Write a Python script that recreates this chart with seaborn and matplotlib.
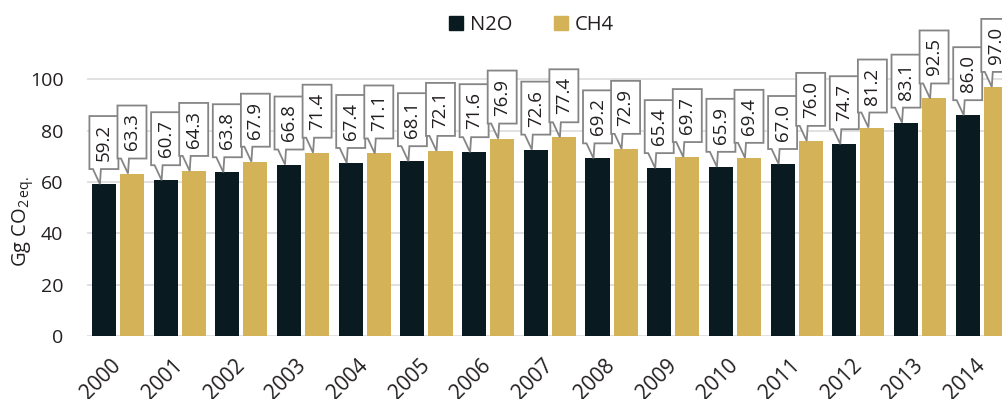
import matplotlib
matplotlib.use("Agg")
import matplotlib.pyplot as plt
import matplotlib.transforms as mtransforms
from matplotlib.patches import Polygon
from matplotlib.lines import Line2D
import pandas as pd
import seaborn as sns

# Emissions by year, Gg CO2 eq.
years = [str(y) for y in range(2000, 2015)]
n2o = [59.2, 60.7, 63.8, 66.8, 67.4, 68.1, 71.6, 72.6, 69.2, 65.4, 65.9, 67.0, 74.7, 83.1, 86.0]
ch4 = [63.3, 64.3, 67.9, 71.4, 71.1, 72.1, 76.9, 77.4, 72.9, 69.7, 69.4, 76.0, 81.2, 92.5, 97.0]
gases = ["N2O", "CH4"]
colors = ["#0a1a21", "#d4b257"]
yticks = [0, 20, 40, 60, 80, 100]

TEXT = "#231f20"
GRID = "#dcdcdc"
EDGE = "#858585"

sns.set_theme(style="white")
plt.rcParams["font.family"] = ["Open Sans", "DejaVu Sans"]
plt.rcParams["mathtext.fontset"] = "custom"
plt.rcParams["mathtext.rm"] = "Open Sans"
plt.rcParams["mathtext.it"] = "Open Sans"
plt.rcParams["text.color"] = TEXT

W, H = 1002, 399
fig = plt.figure(figsize=(W / 100, H / 100), dpi=100)
ax = fig.add_axes([87.1 / W, 62.8 / H, 925.5 / W, 334.1 / H])

df = pd.DataFrame({
    "year": years * 2,
    "gas": [gases[0]] * len(years) + [gases[1]] * len(years),
    "value": n2o + ch4,
})
sns.barplot(data=df, x="year", y="value", hue="gas", hue_order=gases,
            palette=colors, saturation=1, width=0.91, gap=0.14,
            linewidth=0, errorbar=None, legend=False, ax=ax)

ax.set_xlim(-0.5, len(years) - 0.5)
ax.set_ylim(0, 130)
ax.set_yticks(yticks)
ax.yaxis.grid(True, color=GRID, lw=1.2)
ax.set_axisbelow(True)
for s in ax.spines.values():
    s.set_visible(False)
ax.set_xlabel("")
ax.set_ylabel("")
ax.tick_params(axis="y", length=0, pad=17, labelsize=14, labelcolor=TEXT)
ax.tick_params(axis="x", length=0, pad=19, labelsize=15, labelcolor=TEXT)
plt.setp(ax.get_xticklabels(), rotation=45, ha="right", va="center",
         rotation_mode="anchor")

# Callout outline in pixel offsets from the top-centre of each bar
CALLOUT = [(-4, 0), (-3, 15), (14.5, 15), (14.5, 68), (-14.5, 68),
           (-14.5, 15), (-11, 15)]
BOX_CY = 41.5

for cont, vals in zip(ax.containers, [n2o, ch4]):
    for bar, v in zip(cont, vals):
        cx = bar.get_x() + bar.get_width() / 2
        trans = mtransforms.Affine2D() + mtransforms.ScaledTranslation(cx, v, ax.transData)
        shape = Polygon(CALLOUT, closed=True, transform=trans, fc="white",
                        ec=EDGE, lw=1.3, joinstyle="miter", zorder=4,
                        clip_on=False)
        ax.add_artist(shape)
        ax.annotate(f"{v:.1f}", xy=(cx, v), xytext=(0, BOX_CY),
                    textcoords="offset pixels", rotation=90, ha="center",
                    va="center", fontsize=13.5, color=TEXT, zorder=5,
                    annotation_clip=False)

fig.text(23 / W, 1 - 222 / H, r"Gg CO$_{\mathregular{2\,eq.}}$", rotation=90,
         ha="center", va="center", fontsize=14.5, color=TEXT)

handles = [Line2D([], [], marker="s", ls="", color=c, markersize=10) for c in colors]
fig.legend(handles, gases, loc="center", bbox_to_anchor=(531 / W, 1 - 25 / H),
           ncol=2, frameon=False, fontsize=14.5, handlelength=0.8,
           handletextpad=0.3, columnspacing=2.0)

fig.savefig("out.png", dpi=100)
